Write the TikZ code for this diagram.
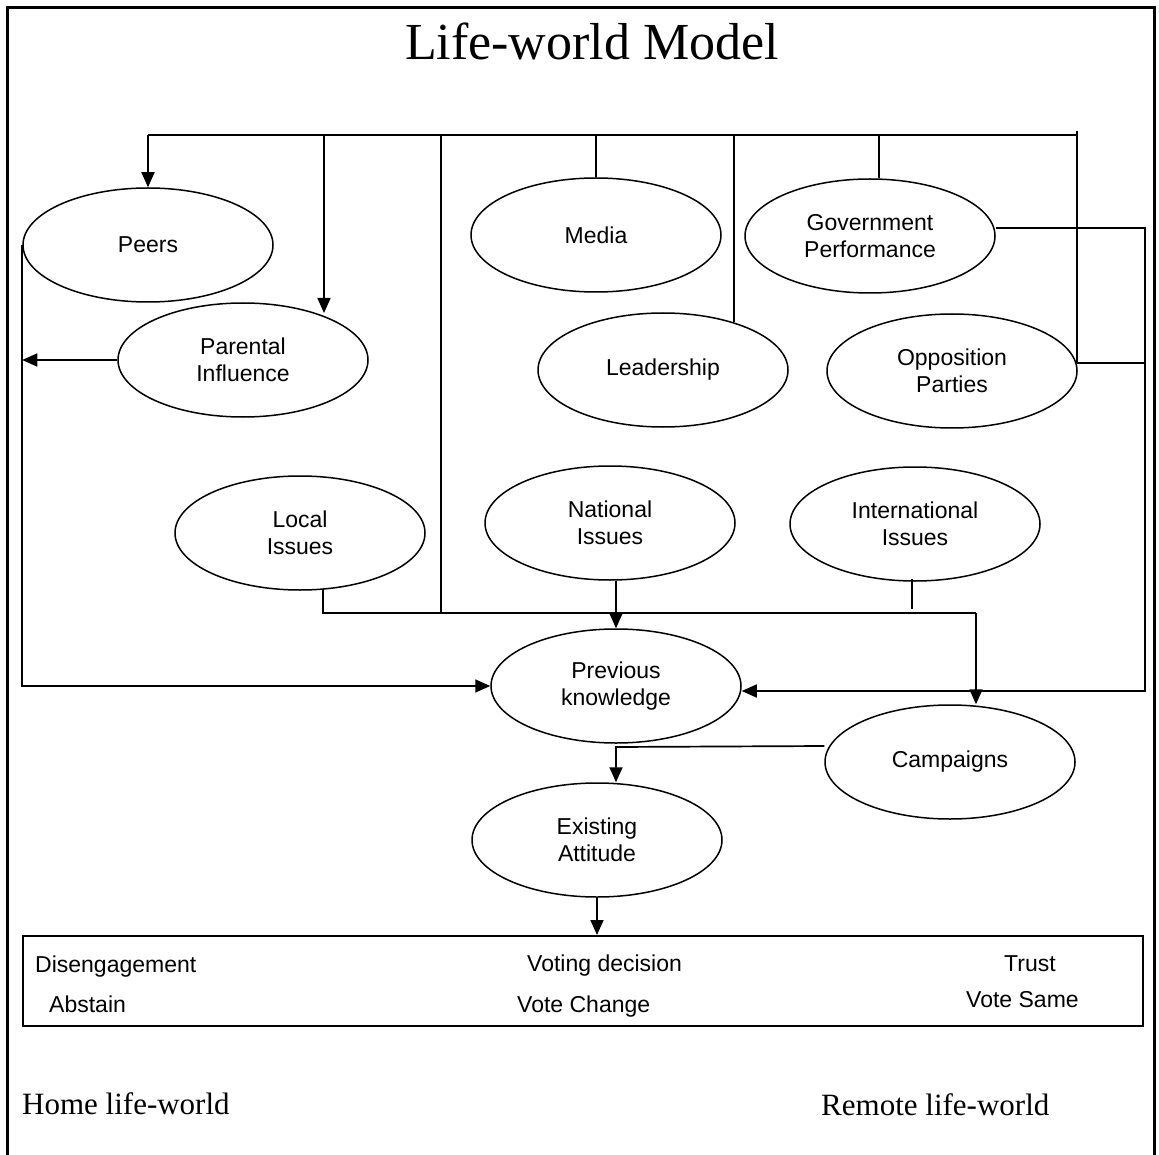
\documentclass[tikz,border=0pt]{standalone}
\usepackage{fontspec}
\setmainfont{Liberation Serif}
\newfontfamily\arialfont{Liberation Sans}
\usetikzlibrary{shapes.geometric,arrows.meta}
\begin{document}
\begin{tikzpicture}[x=1pt,y=-1pt,
  oval/.style={ellipse,draw,line width=1.5pt,minimum width=250pt,minimum height=114pt,inner sep=0pt,align=center,font=\arialfont\fontsize{23}{27}\selectfont},
  conn/.style={line width=1.7pt},
  arr/.style={conn,-{Triangle[length=15pt,width=13pt]}},
  lbl/.style={font=\arialfont\fontsize{23}{27}\selectfont,inner sep=0pt,anchor=base west},
  serifbig/.style={inner sep=0pt,anchor=base west,font=\fontsize{31}{36}\selectfont},
]
\useasboundingbox (0,0) rectangle (1159,1155);
\draw[line width=3pt] (7,1160) -- (7,8) -- (1154,8) -- (1154,1160);

\node[font=\fontsize{52}{60}\selectfont,inner sep=0pt,anchor=base] (title) at (592,60) {Life-world Model};

\node[oval] (peers) at (148,245) {Peers};
\node[oval] (parental) at (243,360) {Parental\\Influence};
\node[oval] (media) at (596,235) {Media};
\node[oval] (gov) at (870,236) {Government\\Performance};
\node[oval] (lead) at (663,370) {Leadership};
\node[oval] (opp) at (952,371) {Opposition\\Parties};
\node[oval] (local) at (300,533) {Local\\Issues};
\node[oval] (nat) at (610,523) {National\\Issues};
\node[oval] (intl) at (915,524) {International\\Issues};
\node[oval] (prev) at (616,686) {Previous\\knowledge};
\node[oval] (camp) at (950,762) {Campaigns};
\node[oval] (exist) at (597,840) {Existing\\Attitude};

\node[draw,line width=2pt,minimum width=1120pt,minimum height=90pt,inner sep=0pt] (box) at (583,981) {};

\coordinate (t1) at (148,135);
\coordinate (t2) at (324,135);
\coordinate (t3) at (441,135);
\coordinate (t4) at (596,135);
\coordinate (t5) at (734,135);
\coordinate (t6) at (879,135);
\coordinate (t7) at (1077,135);
\coordinate (parTop) at (324,313);
\coordinate (midL) at (441,613);
\coordinate (leadTop) at (734,322);
\coordinate (oppE) at (1077,363);
\coordinate (rE) at (1145,363);
\coordinate (rTop) at (1145,228);
\coordinate (rBot) at (1145,691);
\coordinate (localB) at (323,589);
\coordinate (bR) at (976,613);
\coordinate (intlB) at (912,579);
\coordinate (intlE) at (912,609);
\coordinate (cE) at (616,747);

% top bus
\draw[conn] (t1) -- (t7);
\draw[arr] (t1) -- (peers.north);
\draw[arr] (t2) -- (parTop);
\draw[conn] (t3) -- (midL);
\draw[conn] (t4) -- (media.north);
\draw[conn] (t5) -- (leadTop);
\draw[conn] (t6) -- (t6 |- gov.north);
\draw[conn] ([yshift=4pt]t7) -- (oppE);
\draw[conn] (oppE) -- (rE);

% right loop
\draw[arr] ([yshift=8pt]gov.east) -- (rTop) -- (rBot) -- ([yshift=-5pt]prev.east);

% left loop
\draw[arr] (peers.west) -- (peers.west |- prev.west) -- (prev.west);
\draw[arr] (parental.west) -- (parental.west -| peers.west);

% issues bus
\draw[conn] (localB) -- (localB |- bR) -- (bR);
\draw[arr] (bR) -- (bR |- camp.north);
\draw[arr] (prev.north |- nat.south) -- (prev.north);
\draw[conn] (intlB) -- (intlE);

% campaigns to attitude
\draw[arr] ([yshift=16pt]camp.west) -- (cE) -- (cE |- exist.north);
\draw[arr] (exist.south) -- (exist.south |- box.north);

% box labels
\node[lbl] (dis) at (35,972) {Disengagement};
\node[lbl] (abs) at (49,1012) {Abstain};
\node[lbl] (vd) at (527,971) {Voting decision};
\node[lbl] (vc) at (517,1012) {Vote Change};
\node[lbl] (tr) at (1004,971) {Trust};
\node[lbl] (vs) at (966,1007) {Vote Same};

\node[serifbig] (home) at (22,1114) {Home life-world};
\node[serifbig] (remote) at (821,1115) {Remote life-world};
\end{tikzpicture}
\end{document}
